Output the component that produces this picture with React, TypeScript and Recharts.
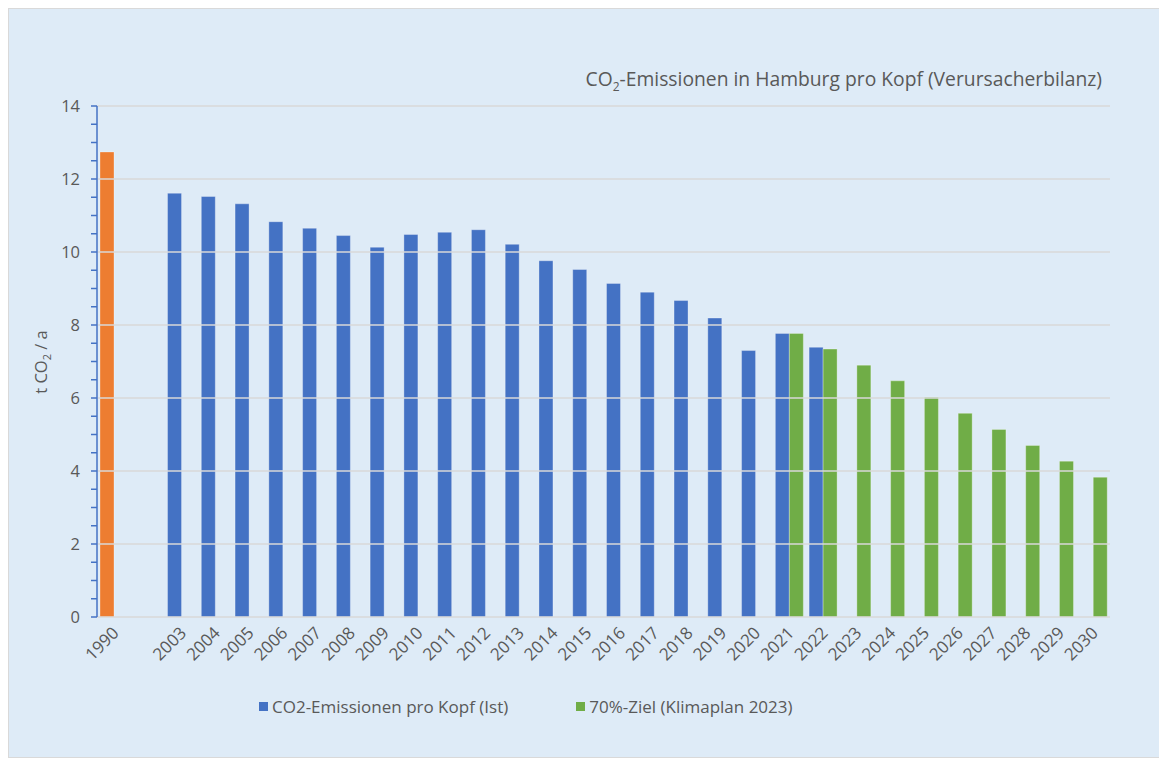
import React from 'react';
import {
  BarChart,
  Bar,
  XAxis,
  YAxis,
  ReferenceLine,
  Cell,
} from 'recharts';

// categories (the blank one is the empty slot between 1990 and 2003)
const years = [
  '1990', '', '2003', '2004', '2005', '2006', '2007', '2008', '2009', '2010',
  '2011', '2012', '2013', '2014', '2015', '2016', '2017', '2018', '2019', '2020',
  '2021', '2022', '2023', '2024', '2025', '2026', '2027', '2028', '2029', '2030',
];

const istValues = [
  12.74, null, 11.61, 11.52, 11.32, 10.83, 10.65, 10.45, 10.13, 10.48,
  10.54, 10.61, 10.21, 9.76, 9.52, 9.14, 8.9, 8.67, 8.19, 7.3,
  7.77, 7.39, null, null, null, null, null, null, null, null,
];

const zielValues = [
  null, null, null, null, null, null, null, null, null, null,
  null, null, null, null, null, null, null, null, null, null,
  7.77, 7.34, 6.9, 6.47, 6.02, 5.58, 5.14, 4.7, 4.27, 3.83,
];

const yTicks = [
  0, 0.5, 1, 1.5, 2, 2.5, 3, 3.5, 4, 4.5, 5, 5.5, 6, 6.5, 7,
  7.5, 8, 8.5, 9, 9.5, 10, 10.5, 11, 11.5, 12, 12.5, 13, 13.5, 14,
];
const gridValues = [2, 4, 6, 8, 10, 12, 14];

const data = years.map((year, i) => ({
  year,
  ist: istValues[i],
  ziel: zielValues[i],
}));

const BLUE = '#4472C4';
const GREEN = '#70AD47';
const ORANGE = '#ED7D31';
const TEXT = '#595959';
const FONT = '"Open Sans", sans-serif';

const XTick = (props: any) => {
  const { x, y, payload } = props;
  const ax = x + 6;
  const ay = y + 7;
  return (
    <text
      x={ax}
      y={ay}
      transform={`rotate(-45 ${ax} ${ay})`}
      textAnchor="end"
      fontSize={17}
      fill={TEXT}
      fontFamily={FONT}
    >
      {payload.value}
    </text>
  );
};

const YTick = (props: any) => {
  const { x, y, payload } = props;
  if (payload.value % 2 !== 0) return <g />;
  return (
    <text x={x} y={y} dy={6} textAnchor="end" fontSize={16.5} fill={TEXT} fontFamily={FONT}>
      {payload.value}
    </text>
  );
};

const YLabel = () => (
  <text
    transform="rotate(-90 38 353)"
    x={38}
    y={353}
    textAnchor="middle"
    fontSize={16.5}
    fill={TEXT}
    fontFamily={FONT}
  >
    t CO
    <tspan fontSize={11} dy={4}>2</tspan>
    <tspan dy={-4}> / a</tspan>
  </text>
);

const LegendItem = ({ color, label }: { color: string; label: string }) => (
  <div style={{ display: 'flex', alignItems: 'center' }}>
    <span style={{ width: 9, height: 9, background: color, marginRight: 4 }} />
    <span>{label}</span>
  </div>
);

export default function App() {
  return (
    <div
      style={{
        position: 'relative',
        width: 1158,
        height: 748,
        background: '#DEEBF7',
        border: '1px solid #d9d9d9',
        fontFamily: FONT,
        color: TEXT,
        overflow: 'hidden',
      }}
    >
      <div
        style={{
          position: 'absolute',
          right: 65,
          top: 56,
          fontSize: 19.3,
          whiteSpace: 'nowrap',
        }}
      >
        CO<sub style={{ fontSize: 12 }}>2</sub>-Emissionen in Hamburg pro Kopf (Verursacherbilanz)
      </div>

      <BarChart
        width={1158}
        height={748}
        data={data}
        margin={{ top: 97, right: 57, left: 0, bottom: 0 }}
        barGap={0}
        barSize={14}
      >
        <XAxis
          dataKey="year"
          interval={0}
          height={140}
          tickLine={false}
          axisLine={{ stroke: '#d9d9d9', strokeWidth: 1.5 }}
          tick={<XTick />}
          tickMargin={4}
        />
        <YAxis
          width={88}
          domain={[0, 14]}
          ticks={yTicks}
          interval={0}
          tickSize={6}
          tickMargin={11}
          axisLine={{ stroke: BLUE, strokeWidth: 1.5 }}
          tickLine={{ stroke: BLUE, strokeWidth: 1.5 }}
          tick={<YTick />}
          label={<YLabel />}
        />
        {gridValues.map((v) => (
          <ReferenceLine key={v} y={v} stroke="#d9d9d9" strokeWidth={1.5} />
        ))}
        <Bar dataKey="ist" fill={BLUE} stroke="rgba(255,255,255,0.3)" isAnimationActive={false}>
          {data.map((d, i) => (
            <Cell key={i} fill={d.year === '1990' ? ORANGE : BLUE} />
          ))}
        </Bar>
        <Bar dataKey="ziel" fill={GREEN} stroke="rgba(255,255,255,0.3)" isAnimationActive={false} />
      </BarChart>

      <div
        style={{
          position: 'absolute',
          left: 250,
          top: 686,
          display: 'flex',
          gap: 68,
          fontSize: 17,
        }}
      >
        <LegendItem color={BLUE} label="CO2-Emissionen pro Kopf (Ist)" />
        <LegendItem color={GREEN} label="70%-Ziel (Klimaplan 2023)" />
      </div>
    </div>
  );
}
